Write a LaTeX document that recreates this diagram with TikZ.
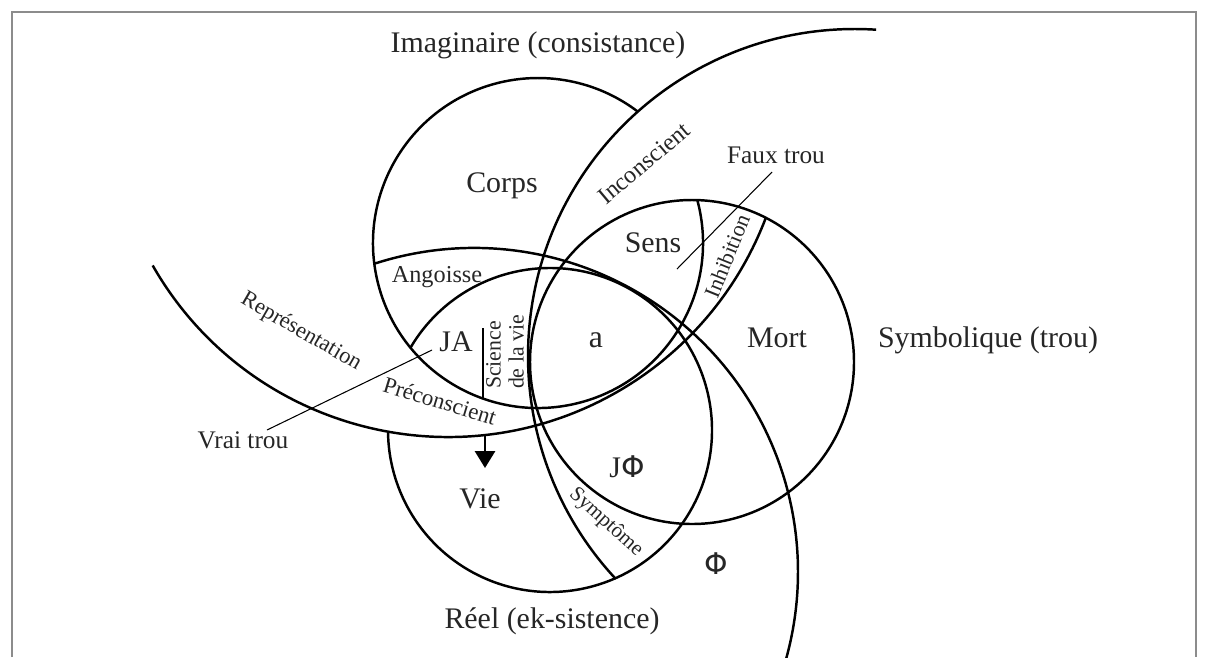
\documentclass[tikz,border=0pt]{standalone}
\usepackage{fontspec}
\setmainfont{Liberation Serif}
\usepackage{tikz}
\usetikzlibrary{arrows.meta}
\newfontfamily\phifont{DejaVu Sans}

\begin{document}
\begin{tikzpicture}[x=0.01cm,y=-0.01cm,
      ring/.style={line width=0.7pt},
      frame/.style={draw=black!45,line width=0.6pt},
      lead/.style={line width=0.3pt},
      big/.style={inner sep=0,text=black!85,font=\fontsize{8.5}{10}\selectfont},
      small/.style={inner sep=0,text=black!85,font=\fontsize{6.5}{7.5}\selectfont}]
      \useasboundingbox (0,0) rectangle (1209,657);
      \draw[frame] (12,657) -- (12,12) -- (1196,12) -- (1196,657);

      \coordinate (cI) at (538,243);
      \coordinate (cS) at (692,362);
      \coordinate (cR) at (550,430);
      \coordinate (cU) at (855,356);
      \coordinate (cP) at (448,97);
      \coordinate (cA) at (474,572);

      \draw[ring] (cI) ++(-15.1:165) arc[start angle=-15.1,end angle=307,radius=165];
      \draw[ring] (cS) circle[radius=162];
      \draw[ring] (cR) ++(210.5:162) arc[start angle=210.5,end angle=539.5,radius=162];
      \draw[ring] (cU) ++(-86.3:327) arc[start angle=-86.3,end angle=-223,radius=327];
      \draw[ring] (cP) ++(150.3:340) arc[start angle=150.3,end angle=20.9,radius=340];
      \draw[ring] (cA) ++(-108:324) arc[start angle=-108,end angle=15.6,radius=324];

      \coordinate (sv1) at (483,328);
      \coordinate (sv2) at (483,399);
      \coordinate (ar1) at (485,435);
      \coordinate (ar2) at (485,468);
      \draw[ring] (sv1) -- (sv2);
      \draw[ring,-{Triangle[length=4.8pt,width=5.7pt]}] (ar1) -- (ar2);

      \coordinate (faux-a) at (772,172);
      \coordinate (faux-b) at (677,269);
      \coordinate (vrai-a) at (267,430);
      \coordinate (vrai-b) at (432,350);
      \draw[lead] (faux-a) -- (faux-b);
      \draw[lead] (vrai-a) -- (vrai-b);

      \node[big] (imag) at (538,45) {Imaginaire (consistance)};
      \node[big] (symb) at (988,340) {Symbolique (trou)};
      \node[big] (reel) at (552,621) {Réel (ek-sistence)};
      \node[big] (corps) at (502,186) {Corps};
      \node[big] (sens) at (653,243) {Sens};
      \node[big] (mort) at (777,338) {Mort};
      \node[big] (vie) at (480,499) {Vie};
      \node[big] (ja) at (456,342) {JA};
      \node[big,font=\fontsize{9}{10}\selectfont] (a) at (596,340) {a};
      \node[big] (jphi) at (627,467) {J{\phifont Φ}};
      \node[big] (phi) at (716,564) {\phifont Φ};

      \node[small,font=\fontsize{6.9}{8}\selectfont] (angoisse) at (437,277) {Angoisse};
      \node[small,font=\fontsize{7.2}{8}\selectfont] (faux) at (776,155) {Faux trou};
      \node[small,font=\fontsize{7.2}{8}\selectfont] (vrai) at (243,440) {Vrai trou};
      \node[small,font=\fontsize{6.4}{8}\selectfont,rotate=-30] (repres) at (301,332) {Représentation};
      \node[small,rotate=-17] (precons) at (440,401) {Préconscient};
      \node[small,font=\fontsize{6.9}{8}\selectfont,rotate=40] (incons) at (644,163) {Inconscient};
      \node[small,font=\fontsize{6.3}{7}\selectfont,rotate=68] (inhib) at (727,256) {Inhibition};
      \node[small,font=\fontsize{6}{7}\selectfont,rotate=-42] (sympt) at (606,522) {Symptôme};
      \node[small,font=\fontsize{6.2}{6.6}\selectfont,rotate=90,align=left] (science) at (505,352) {Science\\de la vie};
\end{tikzpicture}
\end{document}
